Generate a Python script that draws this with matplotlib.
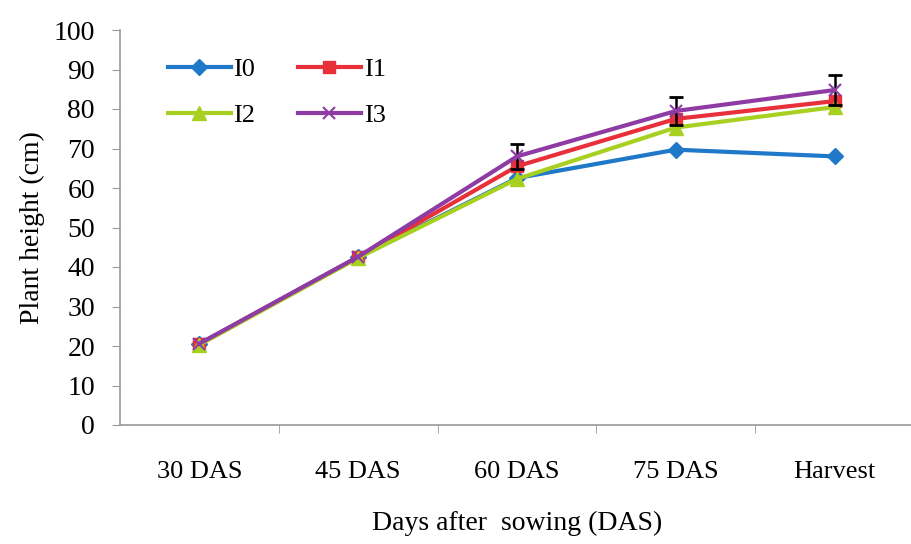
import numpy as np
from matplotlib import pyplot as plt

plt.rcParams['font.family'] = ['Liberation Serif', 'DejaVu Serif']

stages = ['30 DAS', '45 DAS', '60 DAS', '75 DAS', 'Harvest']
i0 = [20.5, 42.5, 62.5, 69.7, 68.0]
i1 = [20.5, 42.5, 65.5, 77.5, 82.0]
i2 = [20.3, 42.3, 62.3, 75.3, 80.5]
i3 = [20.6, 42.6, 68.0, 79.5, 84.8]
i3_err = [0.0, 0.0, 3.2, 3.6, 3.8]

fig = plt.figure(figsize=(9.11, 5.44), dpi=100)
ax = fig.add_axes([120 / 911, 1 - 425 / 544, 794 / 911, 395 / 544])

x = np.arange(len(stages))
l0, = ax.plot(x, i0, color='#1f78c8', marker='D', markersize=8, lw=3, zorder=3, label='I0')
l1, = ax.plot(x, i1, color='#e8303a', marker='s', markersize=9, lw=3, zorder=4, label='I1')
l2, = ax.plot(x, i2, color='#a8d020', marker='^', markersize=10, lw=3, zorder=5, label='I2')
# error bars only visible on I3 from 60 DAS on
ax.errorbar(x[2:], i3[2:], yerr=i3_err[2:], fmt='none', ecolor='black', elinewidth=1.8, capsize=5, capthick=2, zorder=5)
l3, = ax.plot(x, i3, color='#8e3ba3', marker='x', markersize=9, mew=1.5, lw=3, zorder=6, label='I3')

ax.set_xlim(-0.5, len(stages) - 0.5)
ax.set_ylim(0, 100)
ax.set_yticks(range(0, 101, 10))
ax.set_xticks(x)
ax.set_xticklabels(stages, fontsize=19)
ax.set_xticks(x[:-1] + 0.5, minor=True)
ax.tick_params(axis='x', which='major', length=0, pad=26)
ax.tick_params(axis='x', which='minor', length=6, color='#999999', direction='out')
ax.tick_params(axis='y', labelsize=20, length=6, color='#999999', pad=12)

for s in ['top', 'right']:
    ax.spines[s].set_visible(False)
for s in ['left', 'bottom']:
    ax.spines[s].set_color('#999999')
    ax.spines[s].set_linewidth(1.2)

ax.set_ylabel('Plant height (cm)', fontsize=20, labelpad=6)
ax.set_xlabel('Days after  sowing (DAS)', fontsize=20, labelpad=20)

ax.legend([l0, l2, l1, l3], ['I0', 'I2', 'I1', 'I3'], ncol=2, frameon=False,
          fontsize=19, loc='upper left', bbox_to_anchor=(0.03, 0.99),
          handlelength=2.4, columnspacing=1.6, labelspacing=0.85, handletextpad=0.1)

fig.savefig('out.png', dpi=100)
